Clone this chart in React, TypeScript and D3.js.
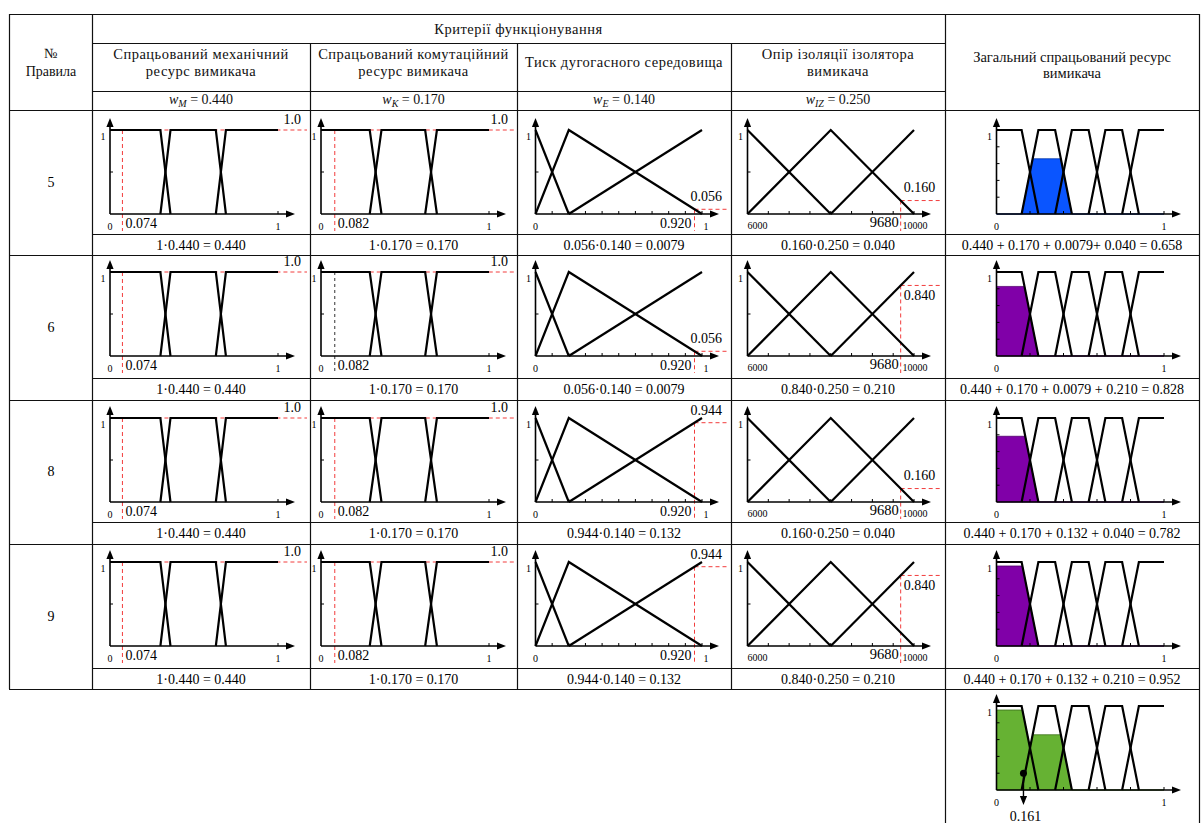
import React from "react";
import * as d3 from "d3";

const FONT = "'Liberation Serif', 'DejaVu Serif', 'Times New Roman', serif";

// ---------- data ----------
const ruleNumbers = ["5", "6", "8", "9"];
const criteriaHeader = "Критерії функціонування";
const criteriaTitles = [
  ["Спрацьований механічний", "ресурс вимикача"],
  ["Спрацьований комутаційний", "ресурс вимикача"],
  ["Тиск дугогасного середовища"],
  ["Опір ізоляції ізолятора", "вимикача"],
];
const outputTitle = ["Загальний спрацьований ресурс", "вимикача"];
const weightSubs = ["M", "K", "E", "IZ"];
const weightValues = ["0.440", "0.170", "0.140", "0.250"];

// membership functions [a, b, c, d]
const mechTerms = [[0, 0, 0.3, 0.36], [0.3, 0.36, 0.63, 0.69], [0.63, 0.69, 1, 1]];
const commTerms = [[0, 0, 0.29, 0.36], [0.29, 0.36, 0.62, 0.69], [0.62, 0.69, 1, 1]];
const pressTerms = [[0, 0, 0, 0.2], [0, 0.2, 0.2, 1], [0.2, 1, 1, 1]];
const insulTerms = [[6000, 6000, 6000, 8000], [6000, 8000, 8000, 10000], [8000, 10000, 10000, 10000]];
const outTerms = [
  [0, 0, 0.15, 0.25],
  [0.15, 0.25, 0.35, 0.45],
  [0.35, 0.45, 0.55, 0.65],
  [0.55, 0.65, 0.75, 0.85],
  [0.75, 0.85, 1, 1],
];

// per-rule inputs
const mechInput = [0.074, 0.074, 0.074, 0.074];
const commInput = [0.082, 0.082, 0.082, 0.082];
const commMarkerRed = [true, false, true, true];
const pressInput = [0.955, 0.955, 0.955, 0.955];
const pressInputLabel = ["0.920", "0.920", "0.920", "0.920"];
const pressDegree = [0.056, 0.056, 0.944, 0.944];
const insulInput = [9680, 9680, 9680, 9680];
const insulDegree = [0.16, 0.84, 0.16, 0.84];

const mechFormula = ["1·0.440 = 0.440", "1·0.440 = 0.440", "1·0.440 = 0.440", "1·0.440 = 0.440"];
const commFormula = ["1·0.170 = 0.170", "1·0.170 = 0.170", "1·0.170 = 0.170", "1·0.170 = 0.170"];
const pressFormula = ["0.056·0.140 = 0.0079", "0.056·0.140 = 0.0079", "0.944·0.140 = 0.132", "0.944·0.140 = 0.132"];
const insulFormula = ["0.160·0.250 = 0.040", "0.840·0.250 = 0.210", "0.160·0.250 = 0.040", "0.840·0.250 = 0.210"];
const outFormula = [
  "0.440 + 0.170 + 0.0079+ 0.040 = 0.658",
  "0.440 + 0.170 + 0.0079 + 0.210 = 0.828",
  "0.440 + 0.170 + 0.132 + 0.040 = 0.782",
  "0.440 + 0.170 + 0.132 + 0.210 = 0.952",
];
const outTermIndex = [1, 0, 0, 0];
const outLevel = [0.658, 0.828, 0.782, 0.952];
const outColor = ["#0a55ff", "#8000a8", "#8000a8", "#8000a8"];

const finalTerms = [0, 1];
const finalLevels = [0.952, 0.658];
const finalColor = "#66b233";
const centroid = 0.161;

// ---------- layout ----------
const colL = [92, 310, 517, 731, 945];
const colR = [310, 517, 731, 945, 1199];
const plotLeft = [110, 321, 535.5, 747.5, 996.5];
const plotRight = [278, 489, 702, 914, 1164];
const rowTop = [110, 255, 400, 544];
const formTop = [234, 378, 522, 668];
const rowBase = [214, 356, 502, 646];
const PH = 84;
const RED = "#f23c3c";

function mu(t: number[], x: number) {
  const [a, b, c, d] = t;
  if (x < a || x > d) return 0;
  if (x < b) return (x - a) / (b - a);
  if (x <= c) return 1;
  return (d - x) / (d - c);
}

function trapPoints(t: number[]): [number, number][] {
  const [a, b, c, d] = t;
  const pts: [number, number][] = [];
  if (b > a) pts.push([a, 0]);
  pts.push([b, 1]);
  if (c > b) pts.push([c, 1]);
  if (d > c) pts.push([d, 0]);
  return pts;
}

function clippedArea(terms: number[][], levels: number[]) {
  const xs = d3.range(0, 1.00001, 0.0025);
  terms.forEach((t, i) => {
    const h = levels[i];
    xs.push(t[0], t[1], t[2], t[3], t[0] + (t[1] - t[0]) * h, t[3] - (t[3] - t[2]) * h);
  });
  const sorted = Array.from(new Set(xs.map((v) => Math.round(v * 100000) / 100000))).sort((a, b) => a - b);
  return sorted.map((x) => [x, d3.max(terms, (t, i) => Math.min(mu(t, x), levels[i])) as number] as [number, number]);
}

type Sc = d3.ScaleLinear<number, number>;
type PlotProps = {
  left: number;
  right: number;
  base: number;
  domain: [number, number];
  terms: number[][];
  xTicks: number[];
  yTicks: number[];
  children?: (x: Sc, y: Sc) => React.ReactNode;
  under?: (x: Sc, y: Sc) => React.ReactNode;
};

function Plot({ left, right, base, domain, terms, xTicks, yTicks, children, under }: PlotProps) {
  const x = d3.scaleLinear().domain(domain).range([left, right]);
  const y = d3.scaleLinear().domain([0, 1]).range([base, base - PH]);
  const line = d3.line<[number, number]>().x((d) => x(d[0])).y((d) => y(d[1]));
  const top = y(1);
  const xEnd = right + 17;
  return (
    <g>
      {under && under(x, y)}
      {children && children(x, y)}
      {terms.map((t, i) => (
        <path key={i} d={line(trapPoints(t)) || ""} fill="none" stroke="#000" strokeWidth={2.2} />
      ))}
      <line x1={left} y1={base} x2={xEnd - 6} y2={base} stroke="#000" strokeWidth={1.6} />
      <line x1={left} y1={base} x2={left} y2={top - 6} stroke="#000" strokeWidth={1.6} />
      <polygon points={`${xEnd},${base} ${xEnd - 9},${base - 3.6} ${xEnd - 9},${base + 3.6}`} fill="#000" />
      <polygon points={`${left},${top - 12} ${left - 3.6},${top - 3} ${left + 3.6},${top - 3}`} fill="#000" />
      {xTicks.map((v, i) => (
        <line key={"xt" + i} x1={x(v)} x2={x(v)} y1={base} y2={base - 3} stroke="#000" strokeWidth={1} />
      ))}
      {yTicks.map((v, i) => (
        <line key={"yt" + i} x1={left} x2={left + 3} y1={y(v)} y2={y(v)} stroke="#000" strokeWidth={1} />
      ))}
      <text x={left - 7} y={top + 10} fontSize={10} textAnchor="middle">1</text>
    </g>
  );
}

const App = () => {
  const W = 1201;
  const H = 823;
  const hLines: [number, number, number][] = [
    [14, 9, 1199],
    [43, 92, 945],
    [91, 92, 945],
    [110, 9, 1199],
  ];
  formTop.forEach((t, i) => {
    hLines.push([t, 92, 1199]);
    hLines.push([i < 3 ? rowTop[i + 1] : 689, 9, 1199]);
  });
  const vLines: [number, number, number][] = [
    [9, 14, 689],
    [92, 14, 689],
    [310, 43, 689],
    [517, 43, 689],
    [731, 43, 689],
    [945, 14, 823],
    [1199, 14, 823],
  ];

  const inputCols = [
    { terms: mechTerms, domain: [0, 1] as [number, number], xTicks: [1], yTicks: [0.5] },
    { terms: commTerms, domain: [0, 1] as [number, number], xTicks: [1], yTicks: [0.5] },
    { terms: pressTerms, domain: [0, 1] as [number, number], xTicks: d3.range(1, 11).map((v) => v / 10), yTicks: [0.5] },
    { terms: insulTerms, domain: [6000, 10000] as [number, number], xTicks: d3.range(6500, 10001, 500), yTicks: [0.5] },
  ];
  const formulas = [mechFormula, commFormula, pressFormula, insulFormula, outFormula];

  const area = (x: Sc, y: Sc) => d3.area<[number, number]>().x((d) => x(d[0])).y0(y(0)).y1((d) => y(d[1]));

  return (
    <svg width={W} height={H} style={{ position: "absolute", left: 0, top: 0, background: "#fff", fontFamily: FONT }}>
      <rect width={W} height={H} fill="#fff" />
      {/* table grid */}
      {hLines.map(([yy, x1, x2], i) => (
        <line key={"h" + i} x1={x1} x2={x2} y1={yy + 0.5} y2={yy + 0.5} stroke="#111" strokeWidth={1.2} />
      ))}
      {vLines.map(([xx, y1, y2], i) => (
        <line key={"v" + i} x1={xx + 0.5} x2={xx + 0.5} y1={y1} y2={y2} stroke="#111" strokeWidth={1.2} />
      ))}

      {/* header */}
      <g fontSize={14.5} textAnchor="middle" fill="#111">
        <text x={51} y={58} fontSize={14}>№</text>
        <text x={51} y={76} fontSize={14}>Правила</text>
        <text x={518.5} y={34} letterSpacing={0.5}>{criteriaHeader}</text>
        {criteriaTitles.map((lines, i) => {
          const cx = (colL[i] + colR[i]) / 2;
          return lines.length === 1 ? (
            <text key={i} x={cx} y={67} letterSpacing={0.5}>{lines[0]}</text>
          ) : (
            <g key={i} letterSpacing={0.5}>
              <text x={cx} y={58.5}>{lines[0]}</text>
              <text x={cx} y={76}>{lines[1]}</text>
            </g>
          );
        })}
        <text x={1072} y={62}>{outputTitle[0]}</text>
        <text x={1072} y={78}>{outputTitle[1]}</text>
        {weightSubs.map((s, i) => (
          <text key={"w" + i} x={(colL[i] + colR[i]) / 2} y={104} fontSize={14}>
            <tspan fontStyle="italic">w</tspan>
            <tspan fontStyle="italic" fontSize={10} dy={3}>{s}</tspan>
            <tspan dy={-3}>{" = " + weightValues[i]}</tspan>
          </text>
        ))}
      </g>

      {/* rule rows */}
      {ruleNumbers.map((num, r) => {
        const base = rowBase[r];
        return (
          <g key={"r" + r}>
            <text x={51} y={(rowTop[r] + formTop[r] + 21) / 2 + 4.5} fontSize={14} textAnchor="middle">{num}</text>
            {formulas.map((f, c) => (
              <text key={"f" + c} x={(colL[c] + colR[c]) / 2} y={formTop[r] + 15.5} fontSize={14} textAnchor="middle">
                {f[r]}
              </text>
            ))}
            {inputCols.map((cfg, c) => (
              <Plot key={"p" + c} left={plotLeft[c]} right={plotRight[c]} base={base} domain={cfg.domain} terms={cfg.terms} xTicks={cfg.xTicks} yTicks={cfg.yTicks}>
                {(x, y) => {
                  const edge = colR[c] - 3;
                  if (c < 2) {
                    const inp = c === 0 ? mechInput[r] : commInput[r];
                    const red = c === 0 || commMarkerRed[r];
                    return (
                      <g>
                        <line x1={x(inp)} x2={edge} y1={y(1)} y2={y(1)} stroke={RED} strokeDasharray="4,3" strokeWidth={1} />
                        <line x1={x(inp)} x2={x(inp)} y1={y(1)} y2={base + 17} stroke={red ? RED : "#333"} strokeDasharray={red ? "4,3" : "3,3"} strokeWidth={1} />
                        <text x={x(0)} y={base + 16} fontSize={10} textAnchor="middle">0</text>
                        <text x={x(1)} y={base + 16} fontSize={10} textAnchor="middle">1</text>
                        <text x={x(inp) + 3} y={base + 14} fontSize={14}>{inp.toFixed(3)}</text>
                        <text x={colR[c] - 9} y={y(1) - 6} fontSize={14} textAnchor="end">1.0</text>
                      </g>
                    );
                  }
                  if (c === 2) {
                    const inp = pressInput[r];
                    const dg = pressDegree[r];
                    return (
                      <g>
                        <line x1={x(inp)} x2={edge} y1={y(dg)} y2={y(dg)} stroke={RED} strokeDasharray="4,3" strokeWidth={1} />
                        <line x1={x(inp)} x2={x(inp)} y1={y(dg)} y2={base + 17} stroke={RED} strokeDasharray="4,3" strokeWidth={1} />
                        <text x={x(0)} y={base + 16} fontSize={10} textAnchor="middle">0</text>
                        <text x={x(1) + 4} y={base + 16} fontSize={10} textAnchor="middle">1</text>
                        <text x={x(inp) - 3} y={base + 14} fontSize={14} textAnchor="end">{pressInputLabel[r]}</text>
                        <text x={colR[c] - 9} y={y(dg) - 8} fontSize={14} textAnchor="end">{dg.toFixed(3)}</text>
                      </g>
                    );
                  }
                  const inp = insulInput[r];
                  const dg = insulDegree[r];
                  return (
                    <g>
                      <line x1={x(inp)} x2={edge} y1={y(dg)} y2={y(dg)} stroke={RED} strokeDasharray="4,3" strokeWidth={1} />
                      <line x1={x(inp)} x2={x(inp)} y1={y(dg)} y2={base + 17} stroke={RED} strokeDasharray="4,3" strokeWidth={1} />
                      <text x={x(6000)} y={base + 15} fontSize={10}>6000</text>
                      <text x={x(10000) + 1} y={base + 15} fontSize={10} textAnchor="middle">10000</text>
                      <text x={x(inp) - 2} y={base + 13} fontSize={14.5} textAnchor="end">{String(inp)}</text>
                      <text x={x(inp) + 3} y={dg < 0.5 ? y(dg) - 9 : y(dg) + 15} fontSize={14}>{dg.toFixed(3)}</text>
                    </g>
                  );
                }}
              </Plot>
            ))}
            <Plot
              left={plotLeft[4]}
              right={plotRight[4]}
              base={base}
              domain={[0, 1]}
              terms={outTerms}
              xTicks={[0.2, 0.4, 0.6, 0.8, 1]}
              yTicks={[0.2, 0.4, 0.6, 0.8]}
              under={(x, y) => (
                <path
                  d={area(x, y)(clippedArea([outTerms[outTermIndex[r]]], [outLevel[r]])) || ""}
                  fill={outColor[r]}
                  stroke={d3.color(outColor[r])!.darker(1.2).toString()}
                  strokeWidth={1}
                />
              )}
            >
              {(x) => (
                <g>
                  <text x={x(0)} y={base + 16} fontSize={10} textAnchor="middle">0</text>
                  <text x={x(1)} y={base + 16} fontSize={10} textAnchor="middle">1</text>
                </g>
              )}
            </Plot>
          </g>
        );
      })}

      {/* aggregated result */}
      <Plot
        left={plotLeft[4]}
        right={plotRight[4]}
        base={790}
        domain={[0, 1]}
        terms={outTerms}
        xTicks={[0.2, 0.4, 0.6, 0.8, 1]}
        yTicks={[0.2, 0.4, 0.6, 0.8]}
        under={(x, y) => (
          <path
            d={area(x, y)(clippedArea(finalTerms.map((i) => outTerms[i]), finalLevels)) || ""}
            fill={finalColor}
            stroke={d3.color(finalColor)!.darker(1.2).toString()}
            strokeWidth={1}
          />
        )}
      >
        {(x, y) => (
          <g>
            <text x={x(0)} y={790 + 16} fontSize={10} textAnchor="middle">0</text>
            <text x={x(1)} y={790 + 16} fontSize={10} textAnchor="middle">1</text>
            <circle cx={x(centroid)} cy={y(0.2)} r={3.5} fill="#000" />
            <line x1={x(centroid)} x2={x(centroid)} y1={y(0.2)} y2={790 + 8} stroke="#000" strokeWidth={1.4} />
            <polygon points={`${x(centroid)},${790 + 15} ${x(centroid) - 3.6},${790 + 6} ${x(centroid) + 3.6},${790 + 6}`} fill="#000" />
            <text x={x(centroid) + 2} y={790 + 31} fontSize={14} textAnchor="middle">{centroid.toFixed(3)}</text>
          </g>
        )}
      </Plot>
    </svg>
  );
};

export default App;
